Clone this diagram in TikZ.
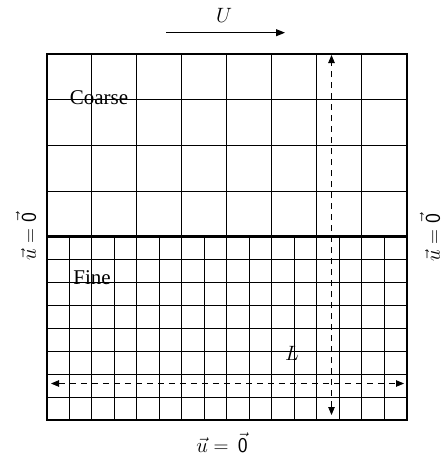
\documentclass[tikz,border=0pt]{standalone}
\usepackage{fontspec}
\setmainfont{Liberation Serif}
\usetikzlibrary{arrows.meta}
\begin{document}
\begin{tikzpicture}[x=1pt,y=-1pt,
  gridline/.style={line width=1.1pt},
  border/.style={line width=2pt},
  midline/.style={line width=2.8pt},
  dimarrow/.style={line width=0.9pt,dash pattern=on 6pt off 5pt,{Triangle[length=8pt,width=6.5pt]}-{Triangle[length=8pt,width=6.5pt]}},
  flowarrow/.style={line width=1pt,-{Triangle[length=9pt,width=7pt]}},
  lbl/.style={font=\fontsize{21}{25}\selectfont,inner sep=0pt},
  sidelbl/.style={font=\fontsize{21}{25}\selectfont,inner sep=0pt,rotate=90}]
\useasboundingbox (0,0) rectangle (443,463);
% coarse grid
\foreach \i in {1,...,7} {\pgfmathsetmacro{\xx}{int(46.5+45*\i)+0.5}
  \draw[gridline] (\xx,54) -- (\xx,236.8);}
\foreach \j in {1,2,3} {\pgfmathsetmacro{\yy}{int(54+45.7*\j)+0.5}
  \draw[gridline] (46.5,\yy) -- (406.5,\yy);}
% fine grid
\foreach \i in {1,...,15} {\pgfmathsetmacro{\xx}{int(46.5+22.5*\i)+0.5}
  \draw[gridline] (\xx,236.8) -- (\xx,420);}
\foreach \j in {1,...,7} {\pgfmathsetmacro{\yy}{int(236.8+22.9*\j)+0.5}
  \draw[gridline] (46.5,\yy) -- (406.5,\yy);}
% border and interface
\draw[border] (46.5,54) rectangle (406.5,420);
\draw[midline] (46.5,236.8) -- (406.5,236.8);
% labels
\node[lbl] (coarse) at (99,98) {Coarse};
\node[lbl] (fine) at (92,278) {Fine};
\node[lbl] (L) at (292,353) {$L$};
\node[lbl] (U) at (224,15) {$U$};
\node[sidelbl] (left) at (26,237) {$\vec{u}=\vec{\mathsf{0}}$};
\node[sidelbl] (right) at (430,238) {$\vec{u}=\vec{\mathsf{0}}$};
\node[lbl] (bottom) at (222,443) {$\vec{u}=\,\vec{\mathsf{0}}$};
% arrows
\coordinate (ua) at (166,32.7);
\coordinate (ub) at (285,32.7);
\draw[flowarrow] (ua) -- (ub);
\coordinate (vt) at (331.5,55);
\coordinate (vb) at (331.5,415);
\draw[dimarrow] (vb) -- (vt);
\coordinate (hl) at (51,383.5);
\coordinate (hr) at (404,383.5);
\draw[dimarrow] (hl) -- (hr);
\end{tikzpicture}
\end{document}
